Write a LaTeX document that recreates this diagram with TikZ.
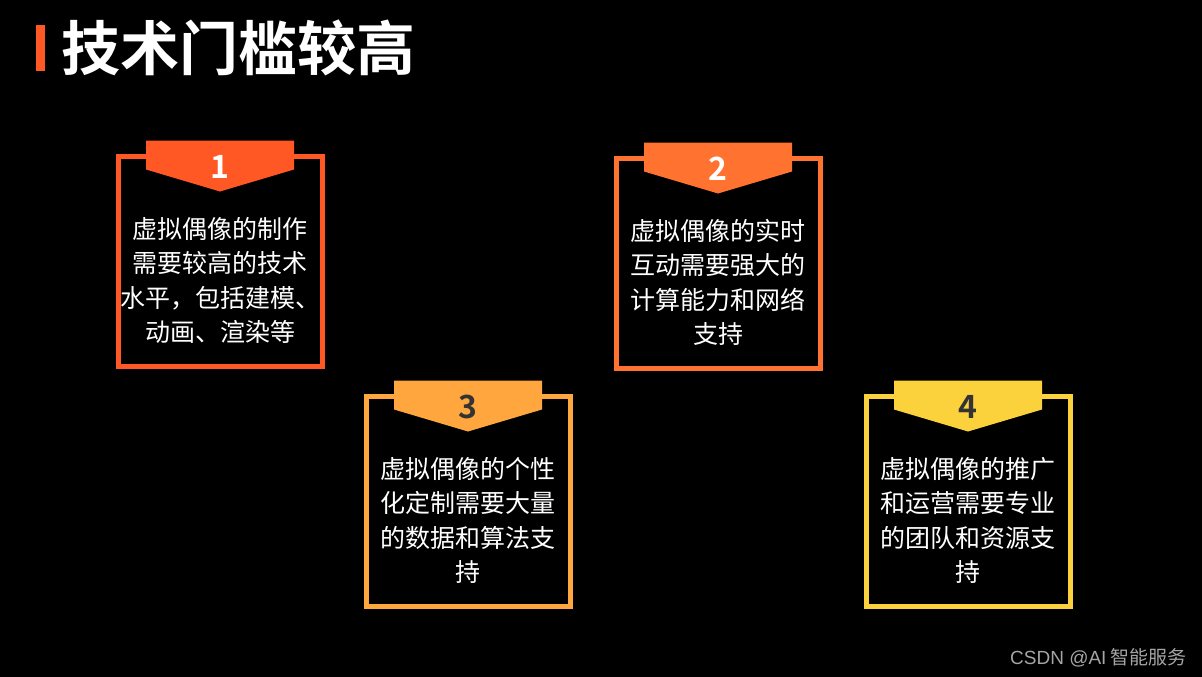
\documentclass[tikz,border=0pt]{standalone}
\usepackage{fontspec}
\setmainfont{Noto Sans CJK SC}
\newfontfamily\cjk{Noto Sans CJK SC}
\newfontfamily\cjkbold{Noto Sans CJK SC Bold}
\newfontfamily\latinwm{Liberation Sans}
\definecolor{cA}{RGB}{255,88,36}
\definecolor{cB}{RGB}{255,114,48}
\definecolor{cC}{RGB}{255,167,62}
\definecolor{cD}{RGB}{252,210,60}
\definecolor{numdark}{RGB}{51,51,51}
\definecolor{wm}{RGB}{165,165,165}
\tikzset{
  cardbox/.style={draw=#1, line width=5pt, minimum width=204pt, minimum height=210pt, inner sep=0pt},
  numlabel/.style={font=\cjkbold\fontsize{32}{32}\selectfont, inner sep=0pt},
  cardtext/.style={font=\cjk\fontsize{25}{34.5}\selectfont, text=white, align=center, inner sep=0pt},
}
\newcommand{\mycard}[7]{%
  \node[cardbox=#4] (#1) at (#2,#3+105) {};
  \fill[#4] ([xshift=-74pt,yshift=13pt]#1.north) -- ([xshift=74pt,yshift=13pt]#1.north)
     -- ([xshift=74pt,yshift=-16pt]#1.north) -- ([yshift=-38pt]#1.north)
     -- ([xshift=-74pt,yshift=-16pt]#1.north) -- cycle;
  \node[numlabel, text=#6] (#1n) at ([yshift=-13pt]#1.north) {#5};
  \node[cardtext] (#1t) at ([yshift=-127pt]#1.north) {#7};
}
\begin{document}
\begin{tikzpicture}[x=1pt,y=-1pt]
\fill[black] (0,0) rectangle (1202,677);
\useasboundingbox (0,0) rectangle (1202,677);
% title
\fill[cA] (36,25) rectangle (45,71);
\node[anchor=west, text=white, inner sep=0pt, font=\cjkbold\fontsize{59}{59}\selectfont] (title) at (61,48) {技术门槛较高};
% cards
\mycard{c1}{220}{156}{cA}{1}{white}{虚拟偶像的制作\\需要较高的技术\\水平，包括建模、\\动画、渲染等}
\mycard{c2}{718}{158}{cB}{2}{white}{虚拟偶像的实时\\互动需要强大的\\计算能力和网络\\支持}
\mycard{c3}{468}{396}{cC}{3}{numdark}{虚拟偶像的个性\\化定制需要大量\\的数据和算法支\\持}
\mycard{c4}{968}{396}{cD}{4}{numdark}{虚拟偶像的推广\\和运营需要专业\\的团队和资源支\\持}
% watermark
\node[anchor=east, text=wm, inner sep=0pt, font=\cjk\fontsize{19}{19}\selectfont] (wm) at (1187,658) {{\latinwm CSDN @AI} 智能服务};
\end{tikzpicture}
\end{document}
